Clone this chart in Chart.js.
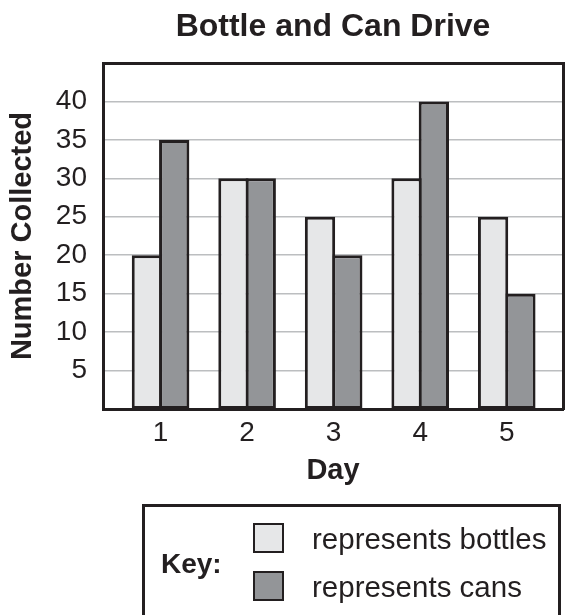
<!DOCTYPE html>
<html>
<head>
<meta charset="utf-8">
<script src="https://cdn.jsdelivr.net/npm/chart.js@4.4.1/dist/chart.umd.min.js"></script>
<style>
  html, body { margin: 0; padding: 0; background: #fff; overflow: hidden; }
  #wrap { position: relative; width: 566px; height: 615px; overflow: hidden; }
  #key {
    position: absolute; left: 142px; top: 504px; width: 419px; height: 140px;
    border: 3px solid #231f20; box-sizing: border-box;
    font-family: 'Liberation Sans', Arial, sans-serif; color: #231f20;
  }
  #key .title { position: absolute; left: 16px; top: 43px; font-size: 28px; line-height: 28px; font-weight: bold; }
  #key .swatch { position: absolute; left: 108px; width: 31px; height: 30px; border: 2.5px solid #231f20; box-sizing: border-box; }
  #key .label { position: absolute; left: 167px; font-size: 29.5px; line-height: 34px; white-space: nowrap; }
</style>
</head>
<body>
<div id="wrap">
  <canvas id="chart" width="566" height="615"></canvas>
  <div id="key"><div class="title">Key:</div></div>
</div>
<script>
// Bottle and Can Drive — grouped bars

const INK = '#231f20';
Chart.defaults.font.family = "'Liberation Sans', Arial, sans-serif";
Chart.defaults.color = INK;

const days = [1, 2, 3, 4, 5];
const bottles = [20, 30, 25, 30, 25];
const cans = [35, 30, 20, 40, 15];
const yTicks = [5, 10, 15, 20, 25, 30, 35, 40];

const seriesNames = ['bottles', 'cans'];
const seriesColors = ['#e6e7e8', '#939598'];

function barSet(name, values, color) {
  return {
    label: name,
    data: days.map((d, i) => ({ x: d, y: values[i] })),
    backgroundColor: color,
    borderColor: INK,
    borderWidth: 3,
    borderSkipped: false,
    // bars overlap by one border width so the shared edge is a single line
    categoryPercentage: 0.631,
    barPercentage: 1.11
  };
}

const chart = new Chart(document.getElementById('chart').getContext('2d'), {
  type: 'bar',
  data: {
    datasets: [
      barSet(seriesNames[0], bottles, seriesColors[0]),
      barSet(seriesNames[1], cans, seriesColors[1])
    ]
  },
  options: {
    responsive: false,
    animation: false,
    layout: { padding: { left: 0, right: 0, top: 0, bottom: 126 } },
    plugins: {
      legend: { display: false },
      tooltip: { enabled: false }
    },
    scales: {
      x: {
        type: 'linear',
        position: 'bottom',
        offset: false,
        min: 0.335,
        max: 5.65,
        afterBuildTicks: s => { s.ticks = days.map(v => ({ value: v })); },
        afterFit: s => { s.height = 80; },
        grid: { display: false, drawTicks: false, offset: false },
        border: { display: true, color: INK, width: 3 },
        ticks: { font: { size: 28 }, color: INK, padding: 7, autoSkip: false, maxRotation: 0 },
        title: { display: true, text: 'Day', color: INK, font: { size: 29, weight: 'bold' }, padding: { top: 0, bottom: 1 } }
      },
      xTop: {
        type: 'linear',
        position: 'top',
        offset: false,
        min: 0.335,
        max: 5.65,
        afterFit: s => { s.height = 63; },
        grid: { display: false, drawTicks: false },
        border: { display: true, color: INK, width: 3 },
        ticks: { display: false },
        title: { display: true, text: 'Bottle and Can Drive', color: INK, font: { size: 32, weight: 'bold' }, padding: { top: 8, bottom: 0 } }
      },
      y: {
        min: 0,
        max: 45,
        afterBuildTicks: s => { s.ticks = yTicks.map(v => ({ value: v })); },
        afterFit: s => { s.width = 103; },
        grid: { color: '#bcbec0', lineWidth: 1.5, drawTicks: false },
        border: { display: true, color: INK, width: 3 },
        ticks: { font: { size: 28 }, color: INK, padding: 16 },
        title: { display: true, text: 'Number Collected', color: INK, font: { size: 29, weight: 'bold' }, padding: { top: 6, bottom: 0 } }
      },
      yRight: {
        type: 'linear',
        position: 'right',
        min: 0,
        max: 45,
        afterFit: s => { s.width = 3; },
        grid: { display: false, drawTicks: false },
        border: { display: true, color: INK, width: 3 },
        ticks: { display: false }
      }
    }
  }
});

// Key box built from the chart's own datasets
const key = document.getElementById('key');
chart.data.datasets.forEach((ds, i) => {
  const sw = document.createElement('div');
  sw.className = 'swatch';
  sw.style.top = (16 + i * 48) + 'px';
  sw.style.background = ds.backgroundColor;
  key.appendChild(sw);

  const lab = document.createElement('div');
  lab.className = 'label';
  lab.style.top = (15 + i * 48) + 'px';
  lab.textContent = 'represents ' + ds.label;
  key.appendChild(lab);
});
</script>
</body>
</html>
